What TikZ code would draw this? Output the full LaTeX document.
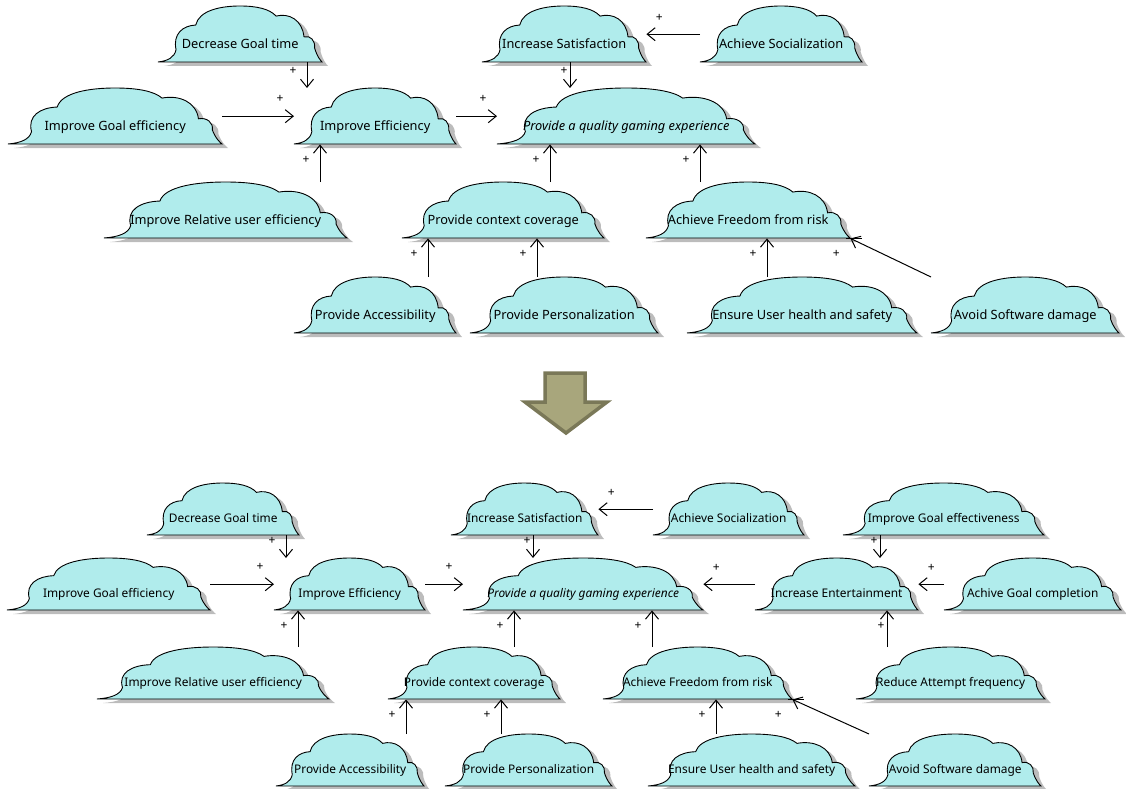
\documentclass[tikz,border=0pt]{standalone}
\usepackage{fontspec}
\setmainfont{Noto Sans}
\usepackage{tikz}
\usetikzlibrary{arrows.meta,positioning,backgrounds}

\definecolor{cloudcyan}{RGB}{176,236,236}
\definecolor{shadowgray}{RGB}{188,188,188}
\definecolor{olivefill}{RGB}{168,166,124}
\definecolor{olivedraw}{RGB}{122,120,88}

% cloud outline in a unit box (v points down, bottom at v=1)
\newcommand{\cloudpath}{(0,1) .. controls (0.06,0.98) and (0.1,0.92) .. (0.11,0.78)
  .. controls (0.09,0.5) and (0.15,0.35) .. (0.23,0.34)
  .. controls (0.25,0.08) and (0.38,0) .. (0.5,0)
  .. controls (0.6,0) and (0.68,0.05) .. (0.72,0.18)
  .. controls (0.8,0.12) and (0.88,0.25) .. (0.89,0.55)
  .. controls (0.93,0.52) and (0.96,0.62) .. (0.955,0.75)
  .. controls (0.97,0.9) and (0.99,0.97) .. (1,1) -- cycle}

% goal: [options] name, top left corner, width, height, text
\newcommand{\goal}[6][]{%
  \fill[shadowgray, shift={(#3)}, shift={(6,4)}, xscale=#4, yscale=#5] \cloudpath;
  \filldraw[cloudbody, shift={(#3)}, xscale=#4, yscale=#5] \cloudpath;
  \node[goal, minimum width=#4, minimum height=#5, #1] (#2) at (#3) {#6};
}

\begin{document}
\begin{tikzpicture}[
    x=1pt, y=-1pt,
    cloudbody/.style={fill=cloudcyan, draw=black, line width=0.9pt},
    goal/.style={anchor=north west, inner sep=0pt, text height=32pt, text depth=3pt,
                 font=\fontsize{12.8}{15}\selectfont},
    lowergoal/.style={text height=30pt, font=\fontsize{11.9}{14}\selectfont},
    link/.style={-{Straight Barb[length=8pt,width=13pt,line width=1pt]}, line width=1pt},
    plus/.style={font=\fontsize{12}{12}\selectfont, inner sep=0pt},
    plusup/.style={plus, pos=1, xshift=-14pt, yshift=-16pt},
    plusin/.style={plus, pos=1, xshift=-14pt, yshift=17pt},
    plusback/.style={plus, pos=1, xshift=13pt, yshift=16pt},
    bigarrow/.style={fill=olivefill, draw=olivedraw, line width=3.5pt, line join=miter}
]
    \useasboundingbox (0,0) rectangle (1126,789);

    % Upper model
    \goal{dgt1}{158,6}{164}{56}{Decrease Goal time}
    \goal{ige1}{8,88}{214}{56}{Improve Goal efficiency}
    \goal{ie1}{294,88}{162}{56}{Improve Efficiency}
    \goal{is1}{482,6}{164}{56}{Increase Satisfaction}
    \goal{as1}{700,6}{162}{56}{Achieve Socialization}
    \goal{pqg1}{497,88}{258}{56}{\itshape Provide a quality gaming experience}
    \goal{irue1}{104,182}{243}{56}{Improve Relative user efficiency}
    \goal{pcc1}{402,182}{202}{56}{Provide context coverage}
    \goal{afr1}{646,182}{204}{56}{Achieve Freedom from risk}
    \goal{pa1}{294,277}{162}{56}{Provide Accessibility}
    \goal{pp1}{470,277}{188}{56}{Provide Personalization}
    \goal{euh1}{687,277}{230}{56}{Ensure User health and safety}
    \goal{asd1}{931,277}{188}{56}{Avoid Software damage}

    % Upper contributions
    \draw[link] (dgt1.south -| 307,0) -- (ie1.north -| 307,0) node[plusin] {+};
    \draw[link] (ige1) -- (ie1) node[plusin] {+};
    \draw[link] (ie1) -- (pqg1) node[plusin] {+};
    \draw[link] (is1.south -| 570,0) -- (pqg1.north -| 570,0) node[plusin, xshift=8pt] {+};
    \draw[link] (as1) -- (is1) node[plusback] {+};
    \draw[link] (irue1.north -| 320,0) -- (ie1.south -| 320,0) node[plusup] {+};
    \draw[link] (pcc1.north -| 550,0) -- (pqg1.south -| 550,0) node[plusup] {+};
    \draw[link] (afr1.north -| 700,0) -- (pqg1.south -| 700,0) node[plusup] {+};
    \draw[link] (pa1.north -| 428,0) -- (pcc1.south -| 428,0) node[plusup] {+};
    \draw[link] (pp1.north -| 537,0) -- (pcc1.south -| 537,0) node[plusup] {+};
    \draw[link] (euh1.north -| 767,0) -- (afr1.south -| 767,0) node[plusup] {+};
    \draw[link] (asd1.north west) -- (afr1.south east) node[plusup] {+};
    \draw[line width=1pt] ([xshift=-4pt]afr1.south east) -- ++(16,0);

    % Refinement arrow
    \draw[bigarrow] (545,373) -- (585,373) -- (585,402) -- (607,402) -- (566,433)
        -- (525,402) -- (545,402) -- cycle;

    % Lower model
    \goal[lowergoal]{dgt2}{147,483}{152}{52}{Decrease Goal time}
    \goal[lowergoal]{ige2}{7,558}{203}{52}{Improve Goal efficiency}
    \goal[lowergoal]{ie2}{274,558}{151}{52}{Improve Efficiency}
    \goal[lowergoal]{is2}{451,483}{147}{52}{Increase Satisfaction}
    \goal[lowergoal]{as2}{653,483}{151}{52}{Achieve Socialization}
    \goal[lowergoal]{pqg2}{463,558}{240}{52}{\itshape Provide a quality gaming experience}
    \goal[lowergoal]{ige3}{843,483}{201}{52}{Improve Goal effectiveness}
    \goal[lowergoal]{ient2}{755,558}{163}{52}{Increase Entertainment}
    \goal[lowergoal]{agc2}{944,558}{177}{52}{Achive Goal completion}
    \goal[lowergoal]{irue2}{97,647}{232}{52}{Improve Relative user efficiency}
    \goal[lowergoal]{pcc2}{388,647}{172}{52}{Provide context coverage}
    \goal[lowergoal]{afr2}{603,647}{189}{52}{Achieve Freedom from risk}
    \goal[lowergoal]{rat2}{856,647}{189}{52}{Reduce Attempt frequency}
    \goal[lowergoal]{pa2}{276,734}{148}{52}{Provide Accessibility}
    \goal[lowergoal]{pp2}{445,734}{167}{52}{Provide Personalization}
    \goal[lowergoal]{euh2}{648,734}{207}{52}{Ensure User health and safety}
    \goal[lowergoal]{asd2}{869,734}{172}{52}{Avoid Software damage}

    % Lower contributions
    \draw[link] (dgt2.south -| 286,0) -- (ie2.north -| 286,0) node[plusin] {+};
    \draw[link] (ige2) -- (ie2) node[plusin] {+};
    \draw[link] (ie2) -- (pqg2) node[plusin] {+};
    \draw[link] (is2.south -| 533,0) -- (pqg2.north -| 533,0) node[plusin, xshift=8pt] {+};
    \draw[link] (as2) -- (is2) node[plusback] {+};
    \draw[link] (ige3.south -| 880,0) -- (ient2.north -| 880,0) node[plusin, xshift=8pt] {+};
    \draw[link] (ient2) -- (pqg2) node[plusback] {+};
    \draw[link] (agc2) -- (ient2) node[plusback] {+};
    \draw[link] (rat2.north -| 887,0) -- (ient2.south -| 887,0) node[plusup, xshift=8pt] {+};
    \draw[link] (irue2.north -| 298,0) -- (ie2.south -| 298,0) node[plusup] {+};
    \draw[link] (pcc2.north -| 514,0) -- (pqg2.south -| 514,0) node[plusup] {+};
    \draw[link] (afr2.north -| 652,0) -- (pqg2.south -| 652,0) node[plusup] {+};
    \draw[link] (pa2.north -| 406,0) -- (pcc2.south -| 406,0) node[plusup] {+};
    \draw[link] (pp2.north -| 501,0) -- (pcc2.south -| 501,0) node[plusup] {+};
    \draw[link] (euh2.north -| 716,0) -- (afr2.south -| 716,0) node[plusup] {+};
    \draw[link] (asd2.north west) -- (afr2.south east) node[plusup] {+};
    \draw[line width=1pt] ([xshift=-4pt]afr2.south east) -- ++(16,0);
\end{tikzpicture}
\end{document}
